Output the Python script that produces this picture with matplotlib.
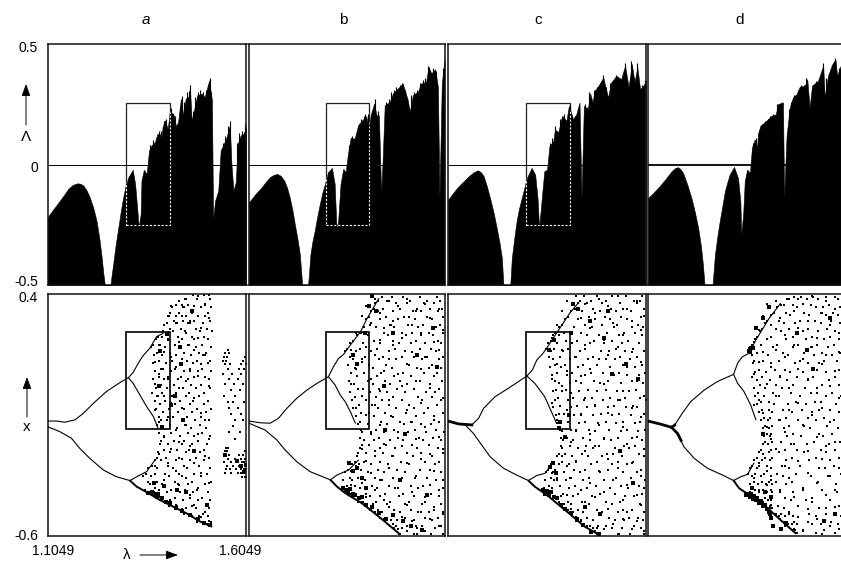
import matplotlib
matplotlib.use("Agg")
import matplotlib.pyplot as plt
from matplotlib.patches import Rectangle, FancyArrowPatch
from matplotlib.transforms import ScaledTranslation

plt.rcParams['font.family'] = ['Liberation Sans', 'DejaVu Sans']

W, H = 841, 561
LAM_MIN, LAM_MAX = 1.1049, 1.6049
panel_names = ['a', 'b', 'c', 'd']
panel_name_px = [146, 343, 538, 740]
lambda_tick_labels = ['1.1049', '1.6049']
upper_ticks = [-0.5, 0, 0.5]
upper_tick_labels = ['-0.5', '0', '0.5']
lower_ticks = [-0.6, 0.4]
lower_tick_labels = ['-0.6', '0.4']

# Lyapunov exponent envelope: (lambda, Lambda)
env_a = [(1.105,-.219),(1.120,-.185),(1.136,-.150),(1.147,-.125),(1.157,-.101),(1.168,-.085),(1.180,-.078),(1.188,-.080),(1.195,-.087),(1.203,-.107),(1.211,-.136),(1.220,-.180),(1.228,-.233),(1.235,-.305),(1.241,-.385),(1.245,-.45),(1.249,-.5),(1.263,-.5),(1.266,-.46),(1.270,-.413),(1.276,-.335),(1.283,-.260),(1.289,-.195),(1.295,-.136),(1.301,-.09),(1.308,-.053),(1.319,-.022),(1.325,-.080),(1.330,-.177),(1.334,-.260),(1.339,-.205),(1.341,-.066),(1.347,-.022),(1.354,-.039),(1.360,.058),(1.366,.079),(1.375,.093),(1.381,.127),(1.387,.127),(1.391,.100),(1.394,.155),(1.400,.183),(1.407,.148),(1.412,.217),(1.421,.211),(1.428,.158),(1.433,.176),(1.440,.273),(1.446,.204),(1.452,.273),(1.459,.280),(1.463,.314),(1.467,.183),(1.473,.224),(1.481,.287),(1.492,.294),(1.500,.280),(1.511,.349),(1.518,.266),(1.521,-.226),(1.526,-.150),(1.534,-.108),(1.540,.058),(1.548,.086),(1.555,.114),(1.563,.162),(1.567,.003),(1.572,-.108),(1.578,-.073),(1.583,.086),(1.590,.120),(1.597,.127),(1.605,.155)]
env_b = [(1.105,-.157),(1.120,-.125),(1.137,-.095),(1.148,-.072),(1.158,-.053),(1.168,-.043),(1.177,-.039),(1.186,-.047),(1.195,-.067),(1.202,-.095),(1.209,-.136),(1.216,-.190),(1.222,-.247),(1.229,-.31),(1.235,-.373),(1.238,-.44),(1.241,-.5),(1.256,-.5),(1.259,-.44),(1.262,-.373),(1.267,-.32),(1.273,-.275),(1.279,-.22),(1.286,-.164),(1.292,-.12),(1.299,-.081),(1.307,-.032),(1.317,-.014),(1.324,-.081),(1.329,-.275),(1.333,-.233),(1.339,-.081),(1.346,-.018),(1.352,-.032),(1.358,.044),(1.365,.111),(1.375,.107),(1.384,.163),(1.394,.183),(1.405,.200),(1.411,.142),(1.416,.204),(1.425,.253),(1.431,.204),(1.437,.204),(1.443,-.122),(1.447,.031),(1.452,.246),(1.465,.260),(1.473,.295),(1.486,.316),(1.498,.336),(1.511,.267),(1.516,.218),(1.524,.288),(1.537,.302),(1.545,.336),(1.558,.343),(1.564,.406),(1.571,.378),(1.581,.395),(1.588,.322),(1.592,-.136),(1.598,.336),(1.605,.434)]
env_c = [(1.105,-.146),(1.116,-.122),(1.128,-.097),(1.143,-.072),(1.157,-.049),(1.169,-.033),(1.180,-.024),(1.188,-.032),(1.195,-.049),(1.203,-.09),(1.211,-.139),(1.220,-.20),(1.228,-.264),(1.235,-.325),(1.241,-.389),(1.243,-.45),(1.245,-.5),(1.262,-.5),(1.264,-.45),(1.266,-.389),(1.272,-.31),(1.278,-.236),(1.284,-.185),(1.291,-.139),(1.298,-.095),(1.304,-.056),(1.316,-.014),(1.325,-.042),(1.331,-.139),(1.335,-.264),(1.341,-.153),(1.348,-.028),(1.355,-.021),(1.361,.076),(1.371,.097),(1.375,.146),(1.383,.132),(1.393,.202),(1.404,.181),(1.410,.243),(1.421,.188),(1.429,.209),(1.437,.257),(1.442,-.139),(1.448,.243),(1.458,.229),(1.464,.295),(1.470,.257),(1.475,.306),(1.485,.327),(1.497,.361),(1.509,.278),(1.517,.341),(1.530,.368),(1.542,.354),(1.552,.410),(1.561,.320),(1.569,.417),(1.576,.341),(1.583,.403),(1.590,.313),(1.598,.327),(1.605,.347)]
env_d = [(1.105,-.139),(1.120,-.115),(1.134,-.090),(1.150,-.058),(1.164,-.028),(1.173,-.015),(1.180,-.011),(1.187,-.02),(1.193,-.035),(1.204,-.085),(1.214,-.139),(1.223,-.20),(1.231,-.264),(1.238,-.34),(1.243,-.417),(1.245,-.46),(1.247,-.5),(1.267,-.5),(1.270,-.44),(1.273,-.375),(1.279,-.30),(1.285,-.236),(1.292,-.17),(1.298,-.111),(1.304,-.075),(1.310,-.042),(1.321,-.010),(1.331,-.056),(1.337,-.153),(1.339,-.292),(1.344,-.208),(1.348,-.069),(1.354,-.021),(1.361,-.035),(1.366,.069),(1.373,.104),(1.379,.069),(1.381,.125),(1.387,.160),(1.402,.181),(1.415,.202),(1.426,.208),(1.431,.250),(1.444,.257),(1.447,-.139),(1.453,.118),(1.461,.236),(1.469,.278),(1.478,.292),(1.486,.322),(1.499,.327),(1.505,.354),(1.511,.236),(1.517,.327),(1.532,.347),(1.545,.410),(1.549,.278),(1.557,.368),(1.568,.417),(1.576,.434),(1.580,.368),(1.589,.410),(1.605,.43)]

# Thin spikes rising from the envelope: (lambda, Lambda)
spikes_a = [(1.363,.08),(1.370,.10),(1.378,.11),(1.384,.14),(1.389,.14),(1.397,.18),(1.403,.19),(1.415,.235),(1.424,.20),(1.437,.24),(1.442,.285),(1.449,.26),(1.455,.30),(1.461,.305),(1.464,.33),(1.470,.22),(1.476,.28),(1.484,.30),(1.489,.31),(1.495,.30),(1.503,.31),(1.508,.33),(1.512,.36),(1.516,.30),(1.545,.09),(1.552,.12),(1.559,.16),(1.564,.18),(1.581,.09),(1.587,.13),(1.593,.14),(1.600,.17)]
spikes_b = [(1.361,.08),(1.368,.12),(1.379,.12),(1.387,.17),(1.391,.19),(1.398,.20),(1.402,.21),(1.409,.21),(1.420,.22),(1.426,.27),(1.434,.22),(1.456,.26),(1.462,.27),(1.469,.30),(1.477,.31),(1.482,.32),(1.490,.33),(1.495,.34),(1.503,.31),(1.520,.29),(1.528,.30),(1.534,.31),(1.541,.34),(1.549,.35),(1.555,.36),(1.562,.41),(1.568,.39),(1.575,.40),(1.584,.39),(1.601,.40)]
spikes_c = [(1.363,.09),(1.368,.11),(1.374,.16),(1.380,.14),(1.388,.19),(1.398,.21),(1.407,.19),(1.412,.25),(1.425,.20),(1.433,.23),(1.450,.25),(1.456,.24),(1.462,.30),(1.473,.31),(1.480,.32),(1.490,.34),(1.496,.37),(1.503,.32),(1.515,.34),(1.523,.35),(1.528,.37),(1.536,.36),(1.546,.37),(1.551,.42),(1.564,.36),(1.568,.43),(1.574,.36),(1.582,.42),(1.595,.33),(1.602,.35)]
spikes_d = [(1.369,.09),(1.376,.11),(1.384,.14),(1.392,.17),(1.398,.18),(1.407,.19),(1.412,.20),(1.420,.21),(1.428,.25),(1.436,.255),(1.441,.26),(1.458,.23),(1.464,.26),(1.472,.29),(1.482,.31),(1.490,.33),(1.496,.33),(1.503,.36),(1.520,.33),(1.528,.345),(1.537,.35),(1.544,.42),(1.553,.36),(1.561,.38),(1.566,.41),(1.572,.43),(1.576,.44),(1.585,.40),(1.592,.41),(1.600,.43)]

# Bifurcation branches: (lambda, x)
br_a = [
 [(1.105,-.125),(1.128,-.125),(1.148,-.130),(1.174,-.120),(1.195,-.093),(1.220,-.052),(1.253,-.003),(1.287,.034),(1.308,.054),(1.320,.076),(1.333,.114),(1.345,.145),(1.362,.176),(1.379,.224),(1.396,.238)],
 [(1.308,.054),(1.320,.031),(1.337,-.017),(1.354,-.065),(1.371,-.107),(1.383,-.155)],
 [(1.105,-.148),(1.136,-.169),(1.165,-.196),(1.186,-.238),(1.211,-.279),(1.245,-.327),(1.278,-.355),(1.312,-.371)],
 [(1.312,-.371),(1.329,-.355),(1.354,-.334),(1.375,-.286)],
 [(1.312,-.371),(1.329,-.396),(1.354,-.419),(1.387,-.451),(1.421,-.479),(1.454,-.506),(1.488,-.540),(1.517,-.561)],
]
br_b = [
 [(1.105,-.125),(1.133,-.132),(1.159,-.134),(1.180,-.114),(1.202,-.072),(1.227,-.031),(1.253,.003),(1.279,.031),(1.308,.058),(1.321,.100),(1.334,.134),(1.347,.151),(1.364,.189),(1.390,.244),(1.407,.299),(1.437,.382)],
 [(1.308,.058),(1.325,.024),(1.338,-.017),(1.351,-.045),(1.364,-.086),(1.377,-.134)],
 [(1.105,-.134),(1.146,-.162),(1.176,-.203),(1.197,-.244),(1.227,-.293),(1.261,-.334),(1.313,-.368)],
 [(1.313,-.368),(1.330,-.348),(1.360,-.327),(1.385,-.286)],
 [(1.313,-.368),(1.330,-.396),(1.351,-.423),(1.394,-.465),(1.437,-.520),(1.488,-.589)],
]
br_c = [
 [(1.105,-.125),(1.132,-.137),(1.165,-.141),(1.182,-.114),(1.195,-.072),(1.224,-.024),(1.257,.010),(1.304,.061),(1.318,.086),(1.329,.127),(1.345,.155),(1.362,.196),(1.387,.258),(1.412,.320),(1.433,.361)],
 [(1.304,.061),(1.324,.031),(1.349,-.024),(1.366,-.086),(1.379,-.134)],
 [(1.148,-.141),(1.169,-.176),(1.190,-.224),(1.211,-.272),(1.245,-.320),(1.278,-.348),(1.308,-.371)],
 [(1.308,-.371),(1.329,-.350),(1.350,-.341),(1.371,-.293)],
 [(1.308,-.371),(1.324,-.396),(1.354,-.430),(1.400,-.492),(1.450,-.561),(1.488,-.596)],
]
br_d = [
 [(1.105,-.125),(1.137,-.138),(1.164,-.151),(1.175,-.134),(1.191,-.093),(1.212,-.045),(1.246,.003),(1.279,.038),(1.320,.068),(1.330,.114),(1.342,.141),(1.359,.155),(1.376,.210),(1.409,.299),(1.438,.361)],
 [(1.320,.068),(1.330,.031),(1.346,-.003),(1.363,-.059),(1.376,-.120)],
 [(1.164,-.151),(1.179,-.176),(1.195,-.231),(1.221,-.279),(1.254,-.320),(1.292,-.348),(1.320,-.371)],
 [(1.320,-.371),(1.338,-.355),(1.355,-.345),(1.371,-.299)],
 [(1.320,-.371),(1.334,-.403),(1.359,-.430),(1.397,-.472),(1.438,-.534),(1.476,-.589)],
]
# Heavier stretches near the first fork
stem_c = [(1.105,-.125),(1.132,-.137),(1.165,-.141)]
stem_d = [(1.105,-.125),(1.137,-.138),(1.164,-.151),(1.172,-.142)]
stem_d2 = [(1.164,-.151),(1.179,-.176),(1.188,-.205)]

# Chaotic scatter, read row by row: (x, [lambda, ...])
cloud_a = [
(.394,[1.471,1.497,1.510]),(.379,[1.451,1.480,1.512]),(.355,[1.428,1.442,1.459,1.501]),(.345,[1.418,1.445,1.449,1.490,1.515]),
(.322,[1.413,1.436,1.468,1.508]),(.311,[1.409,1.427,1.452,1.483,1.500]),(.290,[1.423,1.446,1.472,1.513]),(.279,[1.404,1.431,1.459,1.462,1.495]),
(.255,[1.412,1.440,1.478,1.505]),(.246,[1.396,1.421,1.451,1.488,1.517]),(.222,[1.383,1.393,1.434,1.467,1.499]),(.213,[1.378,1.407,1.443,1.473,1.509]),
(.190,[1.370,1.387,1.425,1.458,1.461,1.492]),(.179,[1.366,1.399,1.436,1.479,1.515]),(.157,[1.379,1.413,1.448,1.486,1.503]),(.147,[1.372,1.392,1.429,1.465,1.496]),
(.124,[1.385,1.418,1.455,1.481,1.512]),(.113,[1.369,1.403,1.437,1.470,1.507]),(.089,[1.391,1.396,1.426,1.462,1.493]),(.080,[1.376,1.415,1.449,1.484,1.516]),
(.057,[1.384,1.408,1.441,1.474,1.501]),(.047,[1.371,1.398,1.432,1.457,1.510]),(.023,[1.389,1.422,1.466,1.490]),(.013,[1.377,1.405,1.445,1.477,1.513]),
(-.009,[1.368,1.393,1.428,1.460,1.497]),(-.020,[1.381,1.383,1.417,1.453,1.486]),(-.044,[1.375,1.401,1.438,1.471,1.509]),(-.053,[1.387,1.424,1.463,1.499]),
(-.077,[1.378,1.410,1.447,1.480,1.515]),(-.086,[1.394,1.433,1.468,1.504]),(-.110,[1.385,1.419,1.456,1.491]),(-.119,[1.389,1.404,1.442,1.475,1.511]),
(-.143,[1.380,1.412,1.451,1.487]),(-.152,[1.392,1.395,1.430,1.466,1.502]),(-.176,[1.386,1.416,1.459,1.494]),(-.186,[1.398,1.439,1.473,1.514]),
(-.209,[1.391,1.423,1.449,1.483]),(-.219,[1.388,1.408,1.444,1.469,1.506]),(-.243,[1.397,1.431,1.461,1.497]),(-.252,[1.383,1.413,1.452,1.488]),
(-.276,[1.379,1.402,1.436,1.477,1.510]),(-.285,[1.374,1.390,1.428,1.464,1.499]),(-.309,[1.368,1.407,1.447,1.485]),(-.319,[1.357,1.381,1.420,1.456,1.513]),
(-.342,[1.352,1.376,1.399,1.435,1.474,1.505]),(-.352,[1.345,1.366,1.411,1.443,1.490]),(-.376,[1.358,1.379,1.426,1.468,1.516]),(-.385,[1.362,1.393,1.433,1.458,1.500]),
(-.409,[1.351,1.384,1.416,1.450,1.481]),(-.418,[1.361,1.372,1.405,1.438,1.471,1.509]),(-.442,[1.378,1.396,1.424,1.462,1.492]),(-.451,[1.388,1.412,1.446,1.483,1.514]),
(-.475,[1.409,1.431,1.468,1.503]),(-.485,[1.428,1.452,1.478,1.511]),(-.508,[1.447,1.460,1.495]),(-.518,[1.469,1.486,1.507]),(-.541,[1.481,1.500,1.515]),(-.551,[1.506,1.514]),
]
island_a = [
(.17,[1.558]),(.155,[1.552,1.561]),(.14,[1.549,1.556,1.601]),(.125,[1.545,1.553,1.597]),(.11,[1.550,1.563,1.592,1.604]),(.09,[1.558,1.585,1.598]),
(.07,[1.547,1.568,1.591]),(.05,[1.560,1.583]),(.03,[1.552,1.574,1.596]),(.005,[1.565,1.588]),(-.02,[1.548,1.576]),(-.045,[1.558,1.570,1.599]),
(-.07,[1.561,1.584]),(-.095,[1.567,1.590]),(-.12,[1.575,1.596]),(-.145,[1.570]),(-.17,[1.562,1.588]),(-.20,[1.575]),
(-.235,[1.553,1.559]),(-.25,[1.550,1.557,1.600]),(-.265,[1.552,1.561,1.585,1.596]),(-.28,[1.558,1.576,1.590,1.602]),(-.295,[1.548,1.566,1.581,1.594,1.599]),
(-.31,[1.556,1.572,1.587,1.592,1.601]),(-.325,[1.553,1.563,1.578,1.590,1.598,1.603]),(-.34,[1.551,1.565,1.584,1.592,1.600]),(-.355,[1.594,1.601,1.604]),
]
cloud_b = [
(.388,[1.446,1.470,1.498,1.541,1.586]),(.373,[1.435,1.459,1.462,1.517,1.560,1.594]),(.362,[1.428,1.481,1.508,1.552,1.577]),(.339,[1.424,1.447,1.491,1.534,1.568,1.598]),
(.328,[1.418,1.436,1.473,1.525,1.546,1.588]),(.305,[1.412,1.456,1.502,1.515,1.559,1.601]),(.295,[1.403,1.441,1.485,1.530,1.572]),(.272,[1.415,1.465,1.468,1.512,1.550,1.593]),
(.262,[1.399,1.430,1.477,1.538,1.582]),(.239,[1.391,1.450,1.495,1.522,1.564,1.600]),(.229,[1.382,1.408,1.460,1.507,1.545,1.576]),(.206,[1.372,1.425,1.472,1.533,1.589]),
(.196,[1.362,1.397,1.441,1.488,1.518,1.556,1.597]),(.172,[1.355,1.388,1.433,1.479,1.542,1.570]),(.163,[1.350,1.378,1.416,1.463,1.505,1.583]),(.139,[1.362,1.402,1.448,1.496,1.527,1.561,1.602]),
(.130,[1.371,1.393,1.437,1.482,1.548,1.591]),(.106,[1.358,1.412,1.456,1.513,1.574]),(.096,[1.375,1.423,1.470,1.535,1.566,1.595]),(.073,[1.366,1.400,1.443,1.500,1.553,1.585]),
(.063,[1.380,1.431,1.475,1.520,1.577]),(.040,[1.360,1.409,1.452,1.492,1.541,1.599]),(.030,[1.373,1.421,1.466,1.510,1.568]),(.006,[1.384,1.396,1.438,1.484,1.528,1.590]),
(-.003,[1.362,1.414,1.458,1.503,1.557,1.581]),(-.027,[1.377,1.429,1.474,1.537,1.572]),(-.037,[1.368,1.405,1.445,1.496,1.548,1.597]),(-.060,[1.386,1.420,1.463,1.515,1.586]),
(-.070,[1.372,1.434,1.480,1.526,1.562]),(-.093,[1.392,1.411,1.453,1.507,1.552,1.600]),(-.103,[1.379,1.425,1.469,1.533,1.578]),(-.127,[1.388,1.443,1.490,1.520,1.592]),
(-.136,[1.384,1.408,1.459,1.502,1.545,1.570]),(-.160,[1.391,1.430,1.476,1.530,1.584]),(-.169,[1.395,1.417,1.449,1.512,1.558,1.603]),(-.193,[1.390,1.437,1.486,1.540,1.575]),
(-.203,[1.398,1.424,1.465,1.499,1.551,1.595]),(-.226,[1.393,1.412,1.455,1.522,1.566]),(-.236,[1.389,1.440,1.478,1.534,1.587]),(-.259,[1.384,1.403,1.447,1.510,1.545,1.600]),
(-.269,[1.381,1.428,1.470,1.525,1.572]),(-.293,[1.376,1.398,1.439,1.493,1.556,1.591]),(-.302,[1.369,1.385,1.418,1.461,1.515,1.580]),(-.326,[1.358,1.392,1.436,1.483,1.542,1.568]),
(-.335,[1.350,1.374,1.409,1.451,1.505,1.597]),(-.359,[1.362,1.383,1.426,1.473,1.530,1.559]),(-.369,[1.346,1.368,1.401,1.444,1.490,1.582]),(-.392,[1.356,1.377,1.419,1.463,1.520,1.549]),
(-.402,[1.343,1.389,1.431,1.478,1.538,1.602]),(-.425,[1.361,1.366,1.404,1.452,1.500,1.571]),(-.435,[1.372,1.414,1.440,1.488,1.527,1.590]),(-.459,[1.383,1.397,1.429,1.466,1.514,1.555]),
(-.468,[1.402,1.421,1.458,1.505,1.548,1.595]),(-.492,[1.414,1.436,1.476,1.520,1.578]),(-.501,[1.427,1.444,1.492,1.537,1.564,1.601]),(-.525,[1.440,1.459,1.503,1.556,1.587]),
(-.535,[1.455,1.468,1.483,1.528,1.572]),(-.558,[1.465,1.481,1.510,1.548,1.597]),(-.568,[1.476,1.497,1.534,1.580]),(-.590,[1.488,1.492,1.528,1.535,1.570,1.601]),
]
cloud_c = [
(.390,[1.448,1.481,1.520,1.555,1.596]),(.371,[1.438,1.466,1.505,1.574,1.590]),(.363,[1.433,1.455,1.494,1.538,1.581]),(.338,[1.426,1.472,1.516,1.547,1.601]),
(.330,[1.415,1.444,1.488,1.528,1.567]),(.304,[1.409,1.460,1.502,1.541,1.592]),(.297,[1.400,1.434,1.477,1.513,1.558]),(.271,[1.392,1.450,1.495,1.532,1.585]),
(.263,[1.386,1.424,1.468,1.523,1.569,1.598]),(.238,[1.376,1.397,1.441,1.507,1.549,1.578]),(.230,[1.370,1.385,1.457,1.486,1.536,1.595]),(.205,[1.364,1.402,1.430,1.474,1.518,1.560]),
(.197,[1.358,1.381,1.419,1.463,1.500,1.544,1.588]),(.171,[1.352,1.372,1.408,1.451,1.530,1.573]),(.164,[1.366,1.395,1.437,1.491,1.512,1.552,1.600]),(.138,[1.359,1.388,1.426,1.470,1.539,1.583]),
(.131,[1.370,1.412,1.459,1.504,1.527,1.565]),(.105,[1.376,1.400,1.445,1.481,1.547,1.594]),(.097,[1.363,1.391,1.433,1.515,1.576]),(.072,[1.381,1.418,1.466,1.497,1.537,1.603]),
(.064,[1.368,1.406,1.452,1.524,1.558,1.586]),(.039,[1.374,1.428,1.473,1.510,1.570]),(.031,[1.385,1.414,1.442,1.488,1.543,1.598]),(.005,[1.378,1.403,1.459,1.505,1.579]),
(-.002,[1.369,1.393,1.436,1.480,1.532,1.562]),(-.028,[1.382,1.421,1.468,1.515,1.551,1.590]),(-.036,[1.375,1.408,1.449,1.497,1.540,1.604]),(-.061,[1.388,1.431,1.477,1.525,1.572]),
(-.069,[1.371,1.415,1.456,1.510,1.555,1.583]),(-.094,[1.384,1.398,1.441,1.491,1.536,1.599]),(-.102,[1.377,1.423,1.470,1.519,1.566]),(-.128,[1.390,1.409,1.452,1.503,1.547,1.591]),
(-.135,[1.381,1.435,1.484,1.528,1.576]),(-.161,[1.387,1.416,1.461,1.512,1.558,1.602]),(-.168,[1.393,1.428,1.475,1.541,1.585]),(-.194,[1.391,1.405,1.446,1.498,1.533,1.569]),
(-.202,[1.396,1.420,1.464,1.517,1.595]),(-.227,[1.389,1.412,1.453,1.486,1.550,1.578]),(-.235,[1.394,1.433,1.472,1.527,1.561]),(-.260,[1.384,1.401,1.443,1.506,1.588]),
(-.268,[1.379,1.417,1.458,1.494,1.544,1.600]),(-.294,[1.372,1.392,1.429,1.481,1.535,1.573]),(-.301,[1.366,1.385,1.410,1.467,1.520,1.556]),(-.327,[1.357,1.376,1.423,1.450,1.509,1.592]),
(-.334,[1.352,1.369,1.398,1.439,1.488,1.548,1.581]),(-.360,[1.364,1.381,1.414,1.462,1.530,1.567]),(-.368,[1.350,1.372,1.404,1.446,1.499,1.603]),(-.393,[1.359,1.388,1.426,1.478,1.541,1.586]),
(-.401,[1.347,1.367,1.411,1.455,1.514,1.560]),(-.426,[1.362,1.396,1.434,1.490,1.526,1.594]),(-.434,[1.374,1.391,1.420,1.468,1.553,1.575]),(-.460,[1.384,1.407,1.443,1.504,1.538]),
(-.467,[1.398,1.415,1.461,1.518,1.590]),(-.493,[1.408,1.432,1.480,1.546,1.569]),(-.500,[1.421,1.447,1.495,1.533,1.601]),(-.526,[1.433,1.455,1.512,1.563,1.584]),
(-.534,[1.442,1.470,1.526,1.550,1.597]),(-.559,[1.456,1.484,1.505,1.575]),(-.567,[1.471,1.480,1.520,1.544,1.592]),(-.590,[1.482,1.488,1.536,1.565,1.600]),
]
cloud_d = [
(.387,[1.472,1.489,1.519,1.551,1.574]),(.378,[1.455,1.482,1.504,1.533,1.582]),(.354,[1.440,1.447,1.468,1.515,1.560]),(.345,[1.429,1.479,1.526,1.544,1.588]),
(.321,[1.421,1.451,1.498,1.539,1.570]),(.312,[1.413,1.462,1.510,1.552,1.583]),(.288,[1.405,1.435,1.486,1.525,1.564]),(.279,[1.399,1.447,1.473,1.540,1.588]),
(.254,[1.392,1.426,1.459,1.507,1.555]),(.246,[1.386,1.439,1.494,1.533,1.576]),(.221,[1.380,1.415,1.468,1.518,1.562]),(.212,[1.374,1.404,1.452,1.503,1.546,1.586]),
(.188,[1.366,1.390,1.430,1.483,1.529,1.571]),(.179,[1.362,1.372,1.418,1.469,1.514,1.557]),(.155,[1.361,1.380,1.443,1.497,1.541,1.588]),(.146,[1.366,1.407,1.457,1.522,1.566]),
(.122,[1.372,1.395,1.433,1.486,1.548,1.579]),(.113,[1.368,1.414,1.473,1.507,1.535]),(.088,[1.385,1.424,1.448,1.530,1.586]),(.079,[1.375,1.402,1.461,1.494,1.553]),
(.055,[1.366,1.391,1.437,1.480,1.519,1.574]),(.046,[1.378,1.412,1.454,1.508,1.560]),(.022,[1.386,1.427,1.470,1.543,1.585]),(.013,[1.371,1.400,1.442,1.499,1.529]),
(-.011,[1.381,1.418,1.463,1.514,1.568]),(-.020,[1.374,1.396,1.434,1.488,1.551,1.589]),(-.045,[1.388,1.410,1.476,1.524,1.540]),(-.053,[1.378,1.422,1.456,1.502,1.578]),
(-.078,[1.392,1.408,1.444,1.492,1.535,1.563]),(-.086,[1.384,1.417,1.466,1.518,1.586]),(-.111,[1.396,1.411,1.451,1.506,1.547]),(-.119,[1.389,1.406,1.435,1.481,1.528,1.571]),
(-.144,[1.400,1.416,1.460,1.497,1.555]),(-.152,[1.394,1.409,1.447,1.512,1.583]),(-.177,[1.403,1.414,1.470,1.535,1.566]),(-.186,[1.397,1.411,1.455,1.490,1.545]),
(-.210,[1.399,1.416,1.439,1.521,1.587]),(-.219,[1.393,1.406,1.463,1.505,1.560]),(-.244,[1.388,1.413,1.448,1.480,1.539,1.575]),(-.252,[1.383,1.408,1.433,1.496,1.552]),
(-.277,[1.378,1.398,1.416,1.467,1.527,1.584]),(-.285,[1.372,1.391,1.411,1.452,1.509,1.562]),(-.310,[1.367,1.384,1.405,1.441,1.488,1.571]),(-.318,[1.360,1.378,1.413,1.459,1.535,1.549]),
(-.343,[1.355,1.373,1.396,1.430,1.478,1.589]),(-.351,[1.365,1.388,1.415,1.445,1.514,1.558]),(-.376,[1.371,1.392,1.408,1.427,1.466,1.533]),(-.385,[1.362,1.381,1.402,1.416,1.451,1.577]),
(-.410,[1.375,1.395,1.413,1.437,1.495,1.543]),(-.418,[1.362,1.385,1.403,1.416,1.470,1.581]),(-.443,[1.378,1.399,1.411,1.449,1.518]),(-.451,[1.392,1.406,1.415,1.463,1.502,1.561]),
(-.476,[1.402,1.412,1.432,1.482,1.586]),(-.484,[1.411,1.416,1.447,1.534,1.552]),(-.509,[1.423,1.438,1.458,1.510,1.572]),(-.518,[1.435,1.449,1.468,1.526,1.589]),
(-.543,[1.447,1.455,1.472,1.507,1.565]),(-.551,[1.456,1.466,1.480,1.540,1.582]),(-.576,[1.466,1.474,1.495,1.548]),(-.587,[1.476,1.480,1.528,1.575]),
]

# Extra specks read column by column: (lambda, [x, ...])
speck_a = [(1.374,[.12,.03,-.08,-.31,-.40]),(1.386,[.19,.07,-.13,-.26,-.44]),(1.398,[.27,.16,-.02,-.19,-.37]),(1.407,[.31,.21,.05,-.11,-.30,-.46]),(1.416,[.35,.14,-.05,-.24,-.41]),(1.427,[.28,.10,-.16,-.33,-.47]),(1.435,[.37,.20,.01,-.21,-.39]),(1.444,[.31,.13,-.07,-.28,-.49]),(1.453,[.38,.24,.04,-.14,-.36]),(1.463,[.29,.08,-.23,-.43,-.51]),(1.472,[.35,.17,-.03,-.30,-.47]),(1.482,[.39,.22,.06,-.18,-.40,-.53]),(1.491,[.26,.11,-.09,-.34,-.52]),(1.501,[.36,.15,-.12,-.27,-.50]),(1.510,[.30,.02,-.20,-.38,-.54])]
speck_b = [(1.366,[.17,.03,-.33,-.39]),(1.378,[.24,.09,-.07,-.31,-.43]),(1.393,[.31,.12,-.02,-.24,-.38,-.46]),(1.404,[.35,.18,-.10,-.29,-.44]),(1.417,[.28,.05,-.18,-.34,-.49]),(1.428,[.38,.15,-.06,-.25,-.41]),(1.439,[.32,.21,.00,-.14,-.37,-.51]),(1.451,[.26,.08,-.22,-.45,-.53]),(1.462,[.37,.13,-.04,-.32,-.48]),(1.474,[.29,.19,-.11,-.27,-.55]),(1.486,[.35,.07,-.17,-.40,-.57]),(1.497,[.22,.02,-.23,-.36,-.52]),(1.509,[.38,.11,-.08,-.30,-.47,-.58]),(1.521,[.27,.16,-.13,-.42,-.54]),(1.533,[.33,.04,-.20,-.35,-.56]),(1.544,[.24,.09,-.05,-.28,-.50]),(1.556,[.36,.14,-.15,-.44,-.58]),(1.567,[.30,.01,-.26,-.39,-.53]),(1.579,[.20,.06,-.12,-.33,-.48]),(1.591,[.34,.17,-.19,-.41,-.56]),(1.600,[.25,-.03,-.24,-.37,-.51])]
speck_c = [(1.368,[.22,.05,-.05,-.34,-.40]),(1.379,[.27,.11,-.12,-.37,-.44]),(1.392,[.33,.17,.02,-.27,-.47]),(1.405,[.37,.08,-.08,-.31,-.43]),(1.416,[.24,-.01,-.21,-.36,-.49]),(1.429,[.39,.14,-.16,-.29,-.52]),(1.440,[.30,.06,-.10,-.41,-.54]),(1.452,[.36,.19,-.03,-.25,-.46]),(1.463,[.26,.09,-.18,-.38,-.56]),(1.475,[.32,-.06,-.23,-.44,-.58]),(1.487,[.38,.13,-.14,-.33,-.51]),(1.499,[.21,.03,-.20,-.42,-.57]),(1.510,[.35,.15,-.09,-.28,-.49]),(1.522,[.28,.07,-.26,-.37,-.55]),(1.534,[.39,.18,-.04,-.32,-.59]),(1.546,[.23,.00,-.15,-.45,-.53]),(1.557,[.34,.10,-.22,-.39,-.50]),(1.569,[.29,.16,-.07,-.30,-.57]),(1.581,[.37,.04,-.19,-.43,-.54]),(1.592,[.25,.12,-.11,-.35,-.47]),(1.601,[.31,-.02,-.24,-.40,-.58])]
speck_d = [(1.372,[.20,.07,-.06,-.36,-.43]),(1.383,[.25,.12,-.04,-.30,-.41]),(1.394,[.31,.16,-.09,-.26,-.46]),(1.404,[.36,.03,-.15,-.33,-.39]),(1.414,[.27,.10,-.20,-.37,-.47]),(1.426,[.37,.17,-.02,-.24,-.51]),(1.437,[.30,.06,-.12,-.42,-.53]),(1.449,[.23,.14,-.17,-.31,-.56]),(1.460,[.38,.01,-.08,-.36,-.50]),(1.472,[.33,.19,-.22,-.44,-.57]),(1.483,[.26,.09,-.05,-.29,-.52]),(1.495,[.36,.13,-.14,-.40,-.58]),(1.506,[.29,.05,-.25,-.34,-.49]),(1.518,[.39,.18,-.10,-.46,-.55]),(1.529,[.22,-.01,-.19,-.38,-.53]),(1.541,[.32,.11,-.07,-.28,-.59]),(1.552,[.37,.15,-.23,-.43,-.51]),(1.563,[.27,.02,-.13,-.35,-.56]),(1.575,[.34,.08,-.21,-.41,-.48]),(1.586,[.24,.16,-.03,-.32,-.57])]

# Darker clumps of the scatter: lambda and x
clump_a_lam = [1.357,1.362,1.367,1.372,1.377,1.382,1.392,1.402,1.412,1.427,1.442,1.462,1.483,1.497,1.512,1.385,1.404,1.437,1.468,1.416,1.446,1.388,1.426,1.392,1.452,1.580,1.590,1.598,1.603,1.552,1.372,1.398,1.430,1.441,1.474,1.505]
clump_a_x = [-.421,-.424,-.418,-.428,-.435,-.425,-.445,-.460,-.465,-.485,-.495,-.515,-.530,-.548,-.555,.020,.235,.180,.330,-.060,-.120,.165,-.020,-.150,-.420,-.290,-.310,-.335,-.305,-.265,-.380,-.395,-.410,.110,-.250,-.470]
clump_b_lam = [1.346,1.352,1.358,1.364,1.370,1.376,1.385,1.395,1.405,1.420,1.438,1.455,1.473,1.498,1.520,1.548,1.360,1.372,1.380,1.395,1.372,1.382,1.402,1.412,1.430,1.450,1.452,1.505,1.405,1.420,1.474,1.492,1.560,1.575,1.535,1.585]
clump_b_x = [-.403,-.410,-.418,-.405,-.425,-.432,-.445,-.440,-.470,-.480,-.505,-.530,-.515,-.540,-.560,-.575,-.300,-.330,-.320,-.360,.150,.110,.240,.350,.330,.020,-.160,-.180,-.400,.390,.240,-.370,-.430,.260,.150,.100]
clump_c_lam = [1.345,1.350,1.355,1.360,1.366,1.372,1.380,1.390,1.400,1.415,1.430,1.445,1.465,1.485,1.362,1.370,1.378,1.384,1.400,1.420,1.372,1.360,1.432,1.415,1.410,1.388,1.520,1.490,1.450,1.498,1.555,1.572,1.540,1.508,1.463,1.585]
clump_c_x = [-.410,-.425,-.415,-.430,-.420,-.440,-.445,-.470,-.490,-.505,-.535,-.555,-.585,-.590,-.315,-.300,-.340,-.155,-.190,.360,.210,.170,.340,.240,-.100,-.130,.070,-.510,-.480,.220,.110,-.380,-.250,.330,.290,.050]
clump_d_lam = [1.352,1.356,1.360,1.364,1.368,1.372,1.376,1.380,1.385,1.390,1.395,1.400,1.404,1.408,1.412,1.415,1.360,1.368,1.395,1.410,1.358,1.362,1.366,1.400,1.413,1.395,1.420,1.440,1.452,1.376,1.480,1.520,1.561,1.548,1.575,1.505]
clump_d_x = [-.430,-.425,-.440,-.428,-.448,-.435,-.452,-.445,-.462,-.455,-.478,-.470,-.490,-.500,-.510,-.525,.160,.178,.300,.345,.165,.172,-.400,-.420,-.440,-.180,-.560,-.570,-.545,.260,.240,.090,.300,-.540,-.510,.170]

# Boxes drawn on panels a, b, c: lambda limits and y limits
box_lam = (1.302, 1.413)
box_upper = (-0.25, 0.254)
box_lower = (-0.158, 0.242)

# Panel pixel extents
col_px = [(47.5, 246.5), (249, 444.5), (448, 646), (648, 847)]
row_px = [(44, 285), (294, 536)]


def add_ax(xr, yr):
    return fig.add_axes([xr[0] / W, 1 - yr[1] / H, (xr[1] - xr[0]) / W, (yr[1] - yr[0]) / H])


def fx(px):
    return px / W


def fy(py):
    return 1 - py / H


def shift(label, dx, dy):
    label.set_transform(label.get_transform() + ScaledTranslation(dx / 100, dy / 100, fig.dpi_scale_trans))


fig = plt.figure(figsize=(W / 100, H / 100), dpi=100, facecolor='white')
envs = [env_a, env_b, env_c, env_d]
spikes = [spikes_a, spikes_b, spikes_c, spikes_d]
branches = [br_a, br_b, br_c, br_d]
clouds = [cloud_a, cloud_b, cloud_c, cloud_d]
specks = [speck_a, speck_b, speck_c, speck_d]
clumps = [(clump_a_lam, clump_a_x), (clump_b_lam, clump_b_x), (clump_c_lam, clump_c_x), (clump_d_lam, clump_d_x)]

for i, name in enumerate(panel_names):
    top = add_ax(col_px[i], row_px[0])
    bot = add_ax(col_px[i], row_px[1])
    for ax in (top, bot):
        ax.set_xlim(LAM_MIN, LAM_MAX)
        ax.set_xticks([])
        ax.set_yticks([])
        for s in ax.spines.values():
            s.set_linewidth(1.1)
            s.set_color('#111111')
    top.set_ylim(-0.5, 0.5)
    bot.set_ylim(-0.6, 0.4)

    # upper row
    top.axhline(0, color='black', lw=0.7 if i < 3 else 1.3, zorder=1)
    lam = [p[0] for p in envs[i]]
    val = [p[1] for p in envs[i]]
    area = top.fill_between(lam, val, -0.5, color='black', lw=0.4, zorder=2)
    top.vlines([p[0] for p in spikes[i]], -0.5, [p[1] for p in spikes[i]], color='black', lw=0.8, zorder=2)
    if i < 3:
        top.add_patch(Rectangle((box_lam[0], box_upper[0]), box_lam[1] - box_lam[0], box_upper[1] - box_upper[0],
                                fill=False, ec='#222222', lw=0.9, zorder=1))
        w = Rectangle((box_lam[0], box_upper[0]), box_lam[1] - box_lam[0], box_upper[1] - box_upper[0],
                      fill=False, ec='white', lw=0.8, ls=(0, (2, 1.5)), zorder=3)
        top.add_patch(w)
        w.set_clip_path(area.get_paths()[0], top.transData)
    fig.text(fx(panel_name_px[i]), fy(20), name, fontsize=11, ha='center', va='center',
             style='italic' if name == 'a' else 'normal')

    # lower row
    for j, seg in enumerate(branches[i]):
        bot.plot([p[0] for p in seg], [p[1] for p in seg], color='black',
                 lw=1.4 if j == 4 else 0.8, solid_capstyle='round', zorder=3)
    if i == 2:
        bot.plot([p[0] for p in stem_c], [p[1] for p in stem_c], color='black', lw=2.0, zorder=3)
    if i == 3:
        bot.plot([p[0] for p in stem_d], [p[1] for p in stem_d], color='black', lw=2.0, zorder=3)
        bot.plot([p[0] for p in stem_d2], [p[1] for p in stem_d2], color='black', lw=2.0, zorder=3)
    xs, ys = [], []
    rows = list(clouds[i]) + (island_a if i == 0 else [])
    for xv, lams in rows:
        xs.extend(lams)
        ys.extend([xv] * len(lams))
    for lv, vals in specks[i]:
        xs.extend([lv] * len(vals))
        ys.extend(vals)
    bot.scatter(xs, ys, s=1.7, c='black', marker='s', linewidths=0, zorder=2)
    bot.scatter(clumps[i][0], clumps[i][1], s=5, c='black', marker='s', linewidths=0, zorder=2)
    if i < 3:
        bot.add_patch(Rectangle((box_lam[0], box_lower[0]), box_lam[1] - box_lam[0], box_lower[1] - box_lower[0],
                                fill=False, ec='black', lw=1.2, zorder=4))

    if i == 0:
        top.set_yticks(upper_ticks, upper_tick_labels, fontsize=10)
        bot.set_yticks(lower_ticks, lower_tick_labels, fontsize=10)
        top.tick_params(axis='y', length=0, pad=7)
        bot.tick_params(axis='y', length=0, pad=7)
        for lab, dy in zip(top.get_yticklabels(), [4, -2, -2]):
            shift(lab, 0, dy)
        for lab, dy in zip(bot.get_yticklabels(), [1, -2]):
            shift(lab, 0, dy)
        bot.set_xticks([LAM_MIN, LAM_MAX], lambda_tick_labels, fontsize=10)
        bot.tick_params(axis='x', length=0, pad=6)
        for lab, dxp in zip(bot.get_xticklabels(), [6, -6]):
            shift(lab, dxp, 0)

# axis symbols and arrows
fig.text(fx(26), fy(137), '\u039b', fontsize=11, ha='center', va='center')
fig.text(fx(27), fy(427), 'x', fontsize=11, ha='center', va='center')
fig.text(fx(127), fy(555), '\u03bb', fontsize=11, ha='center', va='center')
for start, end in [((26, 125), (26, 84)), ((27, 417), (27, 377)), ((140, 555), (178, 555))]:
    fig.add_artist(FancyArrowPatch((fx(start[0]), fy(start[1])), (fx(end[0]), fy(end[1])),
                                   transform=fig.transFigure, arrowstyle='-|>,head_width=0.22,head_length=0.6',
                                   color='black', lw=0.7, mutation_scale=12, shrinkA=0, shrinkB=0))

fig.savefig('out.png', dpi=100, facecolor='white')
